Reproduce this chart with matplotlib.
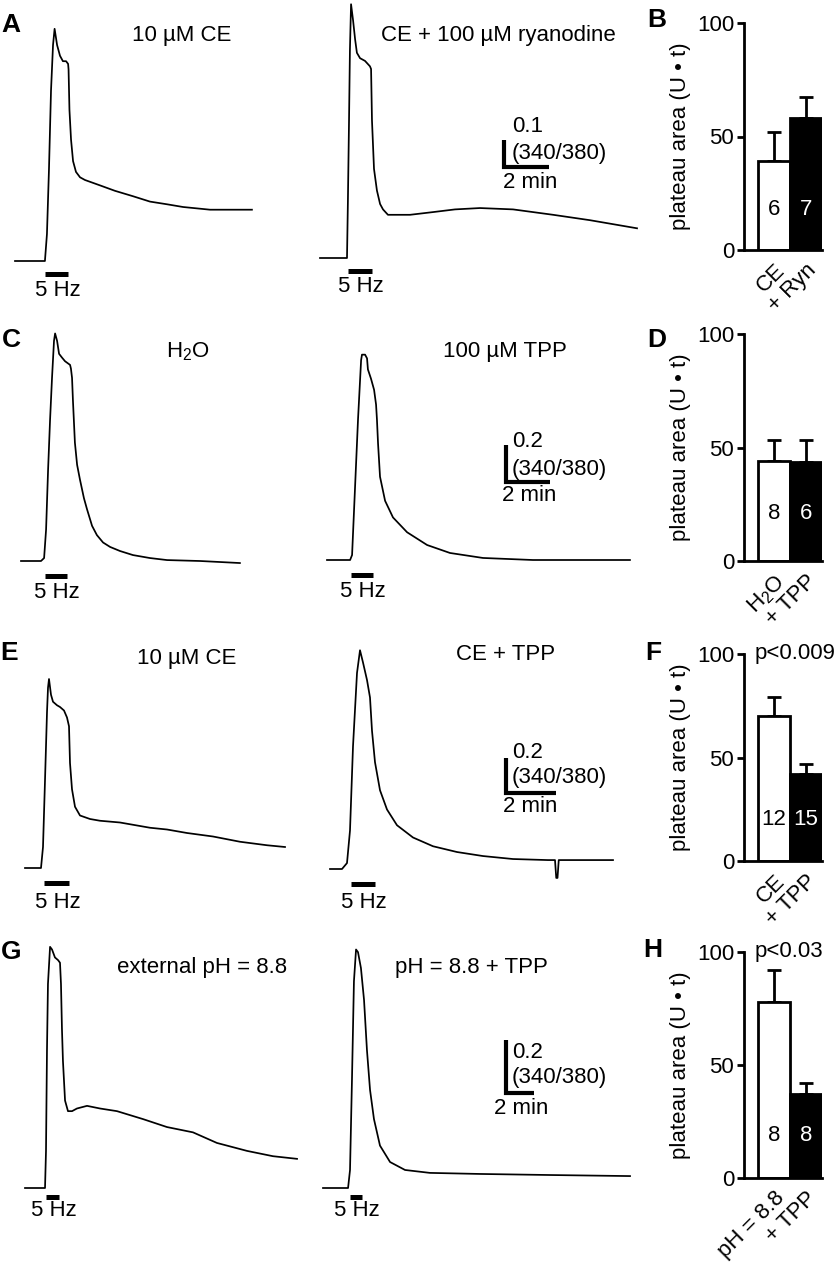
import numpy as np
import matplotlib
matplotlib.use('Agg')
import matplotlib.pyplot as plt
import matplotlib.transforms as mtransforms

plt.rcParams['font.family'] = ['Liberation Sans', 'DejaVu Sans']
plt.rcParams['font.size'] = 16
plt.rcParams['mathtext.fontset'] = 'custom'
plt.rcParams['mathtext.rm'] = 'Liberation Sans'
plt.rcParams['mathtext.default'] = 'regular'

W, H = 837, 1274

# traces: time (min) vs change of fura-2 ratio (340/380) above baseline
a1_t = [0, 1.33, 1.42, 1.51, 1.60, 1.69, 1.76, 1.87, 2.00, 2.13, 2.27, 2.36, 2.38, 2.42, 2.49, 2.58,
        2.71, 2.89, 3.11, 3.78, 4.44, 5.24, 6.00, 6.76, 7.47, 8.67, 10.53]
a1_r = [0, 0, 0.10, 0.34, 0.63, 0.80, 0.86, 0.80, 0.76, 0.74, 0.74, 0.73, 0.71, 0.56, 0.45, 0.37,
        0.33, 0.31, 0.30, 0.28, 0.26, 0.24, 0.22, 0.21, 0.20, 0.19, 0.19]
a2_t = [0, 1.20, 1.24, 1.29, 1.33, 1.38, 1.47, 1.56, 1.64, 1.78, 2.00, 2.22, 2.27, 2.31, 2.40, 2.53,
        2.67, 2.80, 3.02, 3.33, 4.00, 5.02, 6.00, 7.11, 8.58, 10.36, 12.00, 14.09]
a2_r = [0, 0, 0.21, 0.51, 0.77, 0.94, 0.88, 0.81, 0.76, 0.74, 0.73, 0.71, 0.70, 0.51, 0.33, 0.25,
        0.20, 0.18, 0.16, 0.16, 0.16, 0.17, 0.18, 0.185, 0.18, 0.16, 0.14, 0.11]
c1_t = [0, 0.91, 1.05, 1.14, 1.23, 1.32, 1.41, 1.50, 1.55, 1.64, 1.73, 1.86, 2.00, 2.23, 2.27, 2.32,
        2.36, 2.45, 2.55, 2.68, 2.86, 3.00, 3.23, 3.45, 3.73, 4.05, 4.50, 5.09, 5.86, 6.64, 8.14, 9.95]
c1_r = [0, 0, 0.016, 0.17, 0.49, 0.76, 0.99, 1.19, 1.23, 1.19, 1.12, 1.10, 1.08, 1.06, 1.04, 0.99,
        0.87, 0.64, 0.52, 0.44, 0.34, 0.28, 0.19, 0.14, 0.10, 0.076, 0.054, 0.032, 0.016, 0.005, 0, -0.011]
c2_t = [0, 1.05, 1.14, 1.27, 1.41, 1.55, 1.59, 1.73, 1.82, 1.86, 2.00, 2.14, 2.23, 2.27, 2.32, 2.41,
        2.64, 3.00, 3.64, 4.55, 5.59, 7.09, 9.36, 13.77]
c2_r = [0, 0, 0.027, 0.38, 0.76, 1.08, 1.11, 1.11, 1.09, 1.03, 0.98, 0.92, 0.84, 0.76, 0.63, 0.45,
        0.32, 0.23, 0.15, 0.081, 0.038, 0.011, 0, 0]
e1_t = [0, 0.64, 0.72, 0.80, 0.88, 0.92, 0.96, 1.04, 1.12, 1.28, 1.40, 1.56, 1.68, 1.76, 1.80, 1.88,
        2.00, 2.20, 2.60, 3.00, 3.80, 5.00, 5.68, 6.48, 7.52, 8.60, 9.68, 10.40]
e1_r = [0, 0, 0.12, 0.50, 0.89, 1.03, 1.08, 0.99, 0.95, 0.93, 0.92, 0.90, 0.86, 0.81, 0.60, 0.45,
        0.35, 0.30, 0.28, 0.27, 0.26, 0.23, 0.22, 0.20, 0.18, 0.15, 0.13, 0.12]
e2_t = [0, 0.48, 0.68, 0.80, 0.92, 1.08, 1.20, 1.32, 1.48, 1.60, 1.68, 1.80, 2.00, 2.28, 2.68, 3.32,
        4.12, 5.08, 6.12, 7.32, 8.72, 9.00, 9.05, 9.10, 9.15, 10.12, 11.32]
e2_r = [0, 0, 0.034, 0.22, 0.70, 1.12, 1.25, 1.18, 1.08, 0.98, 0.79, 0.61, 0.45, 0.34, 0.25, 0.18,
        0.13, 0.097, 0.074, 0.057, 0.051, 0.051, -0.051, -0.051, 0.051, 0.051, 0.051]
g1_t = [0, 1.43, 1.50, 1.57, 1.64, 1.79, 1.93, 2.14, 2.36, 2.50, 2.57, 2.64, 2.71, 2.86, 3.07, 3.36,
        3.71, 4.43, 5.36, 6.57, 8.43, 10.14, 12.00, 13.71, 15.86, 17.71, 19.43]
g1_r = [0, 0, 0.14, 0.52, 0.77, 0.91, 0.90, 0.87, 0.86, 0.85, 0.77, 0.60, 0.48, 0.33, 0.29, 0.29,
        0.30, 0.31, 0.30, 0.29, 0.26, 0.23, 0.21, 0.17, 0.14, 0.12, 0.11]
g2_t = [0, 1.79, 1.93, 2.07, 2.21, 2.36, 2.50, 2.71, 2.93, 3.14, 3.36, 3.64, 4.07, 4.79, 5.86, 7.64,
        11.21, 16.21, 21.93]
g2_r = [0, 0, 0.068, 0.41, 0.78, 0.90, 0.89, 0.83, 0.71, 0.52, 0.37, 0.26, 0.16, 0.098, 0.068, 0.057,
        0.053, 0.049, 0.045]

# 5 Hz stimulation (start, end) in min
a1_stim, a2_stim = (1.33, 2.36), (1.24, 2.31)
c1_stim, c2_stim = (1.09, 2.09), (1.09, 2.09)
e1_stim, e2_stim = (0.76, 1.76), (0.84, 1.80)
g1_stim, g2_stim = (1.50, 2.43), (1.93, 2.79)

# bar graphs: plateau area (U*t), mean and sem, n
b_labels, b_vals, b_sem, b_n = ['CE', '+ Ryn'], [39, 58], [13, 9.5], ['6', '7']
d_labels, d_vals, d_sem, d_n = ['H$_2$O', '+ TPP'], [44, 43.5], [9.3, 10], ['8', '6']
f_labels, f_vals, f_sem, f_n = ['CE', '+ TPP'], [70, 42], [9, 5], ['12', '15']
h_labels, h_vals, h_sem, h_n = ['pH = 8.8', '+ TPP'], [78, 37], [14, 5], ['8', '8']

fig = plt.figure(figsize=(W / 100, H / 100), dpi=100)


def px_axes(x0, y0, x1, y1):
    return fig.add_axes([x0 / W, 1 - y1 / H, (x1 - x0) / W, (y1 - y0) / H])


def px_text(x, y, s, **kw):
    fig.text(x / W, 1 - y / H, s, **kw)


rows = [
    dict(band=(0, 310), ppm=22.5, ppr=270, ref=261, gap=13, hz=29,
         traces=[(a1_t, a1_r, a1_stim, 15, 261), (a2_t, a2_r, a2_stim, 320, 258)],
         bar=(504, 167, 0.1),
         titles=[('10 µM CE', 182, 36), ('CE + 100 µM ryanodine', 498, 36)],
         stext=[('0.1', 512, 127), ('(340/380)', 512, 153), ('2 min', 503, 183)]),
    dict(band=(310, 630), ppm=22, ppr=185, ref=561, gap=15, hz=32,
         traces=[(c1_t, c1_r, c1_stim, 21, 561), (c2_t, c2_r, c2_stim, 327, 560)],
         bar=(506, 482, 0.2),
         titles=[('H$_2$O', 188, 352), ('100 µM TPP', 505, 352)],
         stext=[('0.2', 512, 442), ('(340/380)', 512, 470), ('2 min', 502, 495)]),
    dict(band=(630, 945), ppm=25, ppr=175, ref=868, gap=15, hz=34,
         traces=[(e1_t, e1_r, e1_stim, 25, 868), (e2_t, e2_r, e2_stim, 330, 869)],
         bar=(506, 793, 0.2),
         titles=[('10 µM CE', 187, 658), ('CE + TPP', 506, 655)],
         stext=[('0.2', 512, 753), ('(340/380)', 512, 778), ('2 min', 503, 807)]),
    dict(band=(945, 1274), ppm=14, ppr=265, ref=1188, gap=9, hz=22,
         traces=[(g1_t, g1_r, g1_stim, 25, 1188), (g2_t, g2_r, g2_stim, 323, 1188)],
         bar=(506, 1093, 0.2),
         titles=[('external pH = 8.8', 202, 968), ('pH = 8.8 + TPP', 471, 968)],
         stext=[('0.2', 512, 1053), ('(340/380)', 512, 1077), ('2 min', 494, 1108)]),
]

for row in rows:
    top, bot = row['band']
    ppm, ppr, ref = row['ppm'], row['ppr'], row['ref']
    ax = px_axes(0, top, 640, bot)
    ax.set_xlim(0, 640 / ppm)
    ax.set_ylim((ref - bot) / ppr, (ref - top) / ppr)
    ax.axis('off')
    for t, r, stim, x0, base in row['traces']:
        dx = x0 / ppm
        dy = (ref - base) / ppr
        ax.plot(np.array(t) + dx, np.array(r) + dy, color='k', lw=1.25, clip_on=False)
        sy = dy - row['gap'] / ppr
        ax.plot([stim[0] + dx, stim[1] + dx], [sy, sy], color='k', lw=3.6, solid_capstyle='butt')
        cx = (stim[0] + stim[1]) / 2 * ppm + x0 + 1
        px_text(cx, base + row['hz'], '5 Hz', ha='center', va='center')
    bx, by, val = row['bar']
    xb, yb = bx / ppm, (ref - by) / ppr
    ax.plot([xb, xb, xb + 2], [yb + val, yb, yb], color='k', lw=3,
            solid_joinstyle='miter', solid_capstyle='butt')
    for s, x, y in row['titles']:
        px_text(x, y, s, ha='center', va='center')
    for s, x, y in row['stext']:
        px_text(x, y, s, ha='left', va='center')

panels = [
    (23, 250, b_labels, b_vals, b_sem, b_n, 18, None),
    (334, 561, d_labels, d_vals, d_sem, d_n, 21, None),
    (654, 861, f_labels, f_vals, f_sem, f_n, 20, 'p<0.009'),
    (952, 1178, h_labels, h_vals, h_sem, h_n, 19, 'p<0.03'),
]

shift = mtransforms.ScaledTranslation(7 / 100, 0, fig.dpi_scale_trans)
for top, bot, labels, vals, sem, n, ny, ptxt in panels:
    ax = px_axes(744, top, 822, bot)
    x = np.arange(len(vals))
    ax.bar(x, vals, width=1, color=['white', 'black'], edgecolor='black', linewidth=2, zorder=2)
    ax.errorbar(x, vals, yerr=[[0] * len(vals), sem], fmt='none', ecolor='k',
                elinewidth=2, capsize=5, capthick=2, zorder=1)
    for i in range(len(vals)):
        ax.text(x[i], ny, n[i], ha='center', va='center', fontsize=16,
                color='k' if i == 0 else 'white', zorder=3)
    ax.set_xlim(-0.94, 1.5)
    ax.set_ylim(0, 100)
    ax.set_yticks([0, 50, 100])
    ax.set_xticks(x)
    ax.set_xticklabels(labels, rotation=45, ha='right', va='top', rotation_mode='anchor')
    for lab in ax.get_xticklabels():
        lab.set_transform(lab.get_transform() + shift)
    ax.tick_params(axis='y', length=5, width=2, pad=2)
    ax.tick_params(axis='x', length=0, pad=7)
    for side in ['top', 'right']:
        ax.spines[side].set_visible(False)
    for side in ['left', 'bottom']:
        ax.spines[side].set_linewidth(2)
    ax.set_ylabel('plateau area (U • t)', fontsize=16, labelpad=4)
    if ptxt:
        px_text(755, top, ptxt, ha='left', va='center')

for s, x, y in [('A', 11, 25), ('B', 657, 20), ('C', 11, 340), ('D', 657, 340),
                ('E', 9, 653), ('F', 653, 653), ('G', 11, 952), ('H', 653, 950)]:
    px_text(x, y, s, ha='center', va='center', fontsize=19, fontweight='bold')

fig.savefig('out.png', dpi=100)
